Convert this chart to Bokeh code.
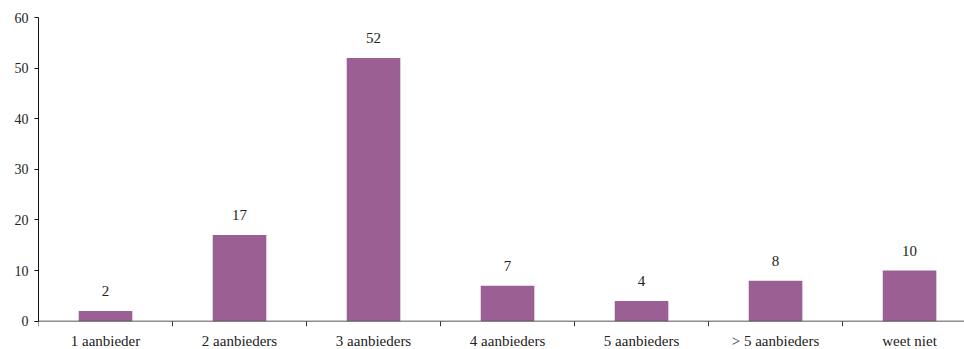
from bokeh.plotting import figure
from bokeh.models import Range1d, FixedTicker, ColumnDataSource, Span
from bokeh.core.properties import value
from bokeh.embed import file_html
from bokeh.resources import INLINE

# Number of providers per respondent (%)
categories = ["1 aanbieder", "2 aanbieders", "3 aanbieders", "4 aanbieders",
              "5 aanbieders", "> 5 aanbieders", "weet niet"]
percentages = [2, 17, 52, 7, 4, 8, 10]
y_ticks = [0, 10, 20, 30, 40, 50, 60]

FONT = "Liberation Serif"
BAR_COLOR = "#9b5f93"
TEXT_COLOR = "#222222"
AXIS_COLOR = "#555555"

n = len(categories)
centers = [i + 0.5 for i in range(n)]
bounds = list(range(n + 1))

bars = ColumnDataSource(dict(
    x=centers,
    y=percentages,
    label=[str(v) for v in percentages],
    cat=categories,
    base=[0] * n,
))

# The plot frame runs below zero so the category names can sit under
# the baseline; the y axis itself is bounded to 0..60.
p = figure(
    width=964, height=349,
    output_backend="svg", toolbar_location=None,
    x_range=Range1d(0, 6.91), y_range=Range1d(-5.6, 60),
    x_axis_location=None,
    min_border_left=38, min_border_right=0,
    min_border_top=17, min_border_bottom=0,
)
p.outline_line_color = None
p.grid.visible = False
p.background_fill_color = "white"
p.border_fill_color = "white"

p.vbar(x="x", top="y", width=0.4, source=bars,
       fill_color=BAR_COLOR, line_color=None)

# value labels above the bars
p.text(x="x", y="y", text="label", source=bars,
       text_align="center", text_baseline="middle", y_offset=-20,
       text_font=value(FONT), text_font_size="15px", text_color=TEXT_COLOR)

# category axis: baseline, boundary ticks and names
p.add_layout(Span(location=0, dimension="width",
                  line_color=AXIS_COLOR, line_width=1))
p.segment(x0=bounds, y0=[0] * (n + 1), x1=bounds, y1=[-1] * (n + 1),
          line_color="#333333", line_width=1)
p.text(x="x", y="base", text="cat", source=bars,
       text_align="center", text_baseline="middle", y_offset=20,
       text_font=value(FONT), text_font_size="15px", text_color=TEXT_COLOR)

# y axis
p.yaxis.bounds = (y_ticks[0], y_ticks[-1])
p.yaxis.ticker = FixedTicker(ticks=y_ticks)
p.yaxis.minor_tick_line_color = None
p.yaxis.major_tick_out = 4
p.yaxis.major_tick_in = 0
p.yaxis.axis_line_color = "#111111"
p.yaxis.major_tick_line_color = "#111111"
p.yaxis.major_label_standoff = 6
p.yaxis.major_label_text_font = FONT
p.yaxis.major_label_text_font_size = "14px"
p.yaxis.major_label_text_color = TEXT_COLOR

open("out.html", "w").write(file_html(p, INLINE))
